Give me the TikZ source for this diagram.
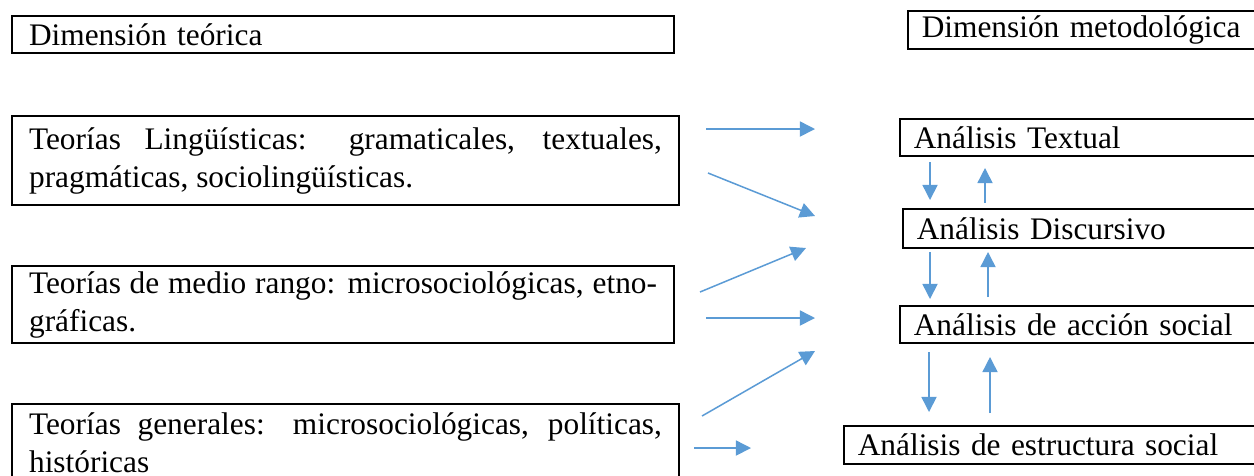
\documentclass[tikz,border=0pt]{standalone}
\usepackage{fontspec}
\setmainfont{Liberation Serif}
\usetikzlibrary{arrows.meta}
\definecolor{azul}{RGB}{91,155,213}
\tikzset{
  caja/.style={draw, line width=0.75pt, anchor=north west, inner ysep=0pt, font=\fontsize{11.4}{13.8}\selectfont},
  cajaizq/.style={caja, inner xsep=6.2pt, align=justify},
  cajader/.style={caja, inner xsep=5pt, align=left, text width=160pt},
  flecha/.style={azul, line width=0.55pt, -{Triangle[length=5.5pt,width=5.5pt]}}
}
\begin{document}
\begin{tikzpicture}[x=0.3636pt,y=-0.3636pt]
\useasboundingbox (0,0) rectangle (1254,475);
% columna teorica
\node[cajaizq, align=left, text width=228.3pt, minimum height=13.5pt] (teo) at (11,15) {Dimensión teórica};
\node[cajaizq, text width=230.1pt, minimum height=32.4pt] (ling) at (11,115) {Teorías Lingüísticas: gramaticales, textuales,\linebreak pragmáticas, sociolingüísticas.};
\node[cajaizq, text width=228.3pt, minimum height=28pt] (medio) at (11,265) {Teorías de medio rango: microsociológicas, etno-\linebreak gráficas.};
\node[cajaizq, text width=230.1pt, minimum height=28pt] (gen) at (11,403) {Teorías generales: microsociológicas, políticas,\linebreak históricas};
% columna metodologica
\node[cajader, minimum height=13.8pt] (met) at (907,10) {Dimensión metodológica};
\node[cajader, minimum height=13.5pt] (txt) at (899,118) {Análisis Textual};
\node[cajader, minimum height=14.2pt] (dis) at (902,208) {Análisis Discursivo};
\node[cajader, minimum height=13.5pt] (acc) at (899,305) {Análisis de acción social};
\node[cajader, minimum height=13.8pt] (est) at (843,425) {Análisis de estructura social};

% extremos de las flechas
\coordinate (a1) at (706,129); \coordinate (b1) at (815,129);
\coordinate (a2) at (708,173); \coordinate (b2) at (815,216);
\coordinate (a3) at (700,292); \coordinate (b3) at (806,248);
\coordinate (a4) at (706,318); \coordinate (b4) at (815,318);
\coordinate (a5) at (702,416); \coordinate (b5) at (815,351);
\coordinate (a6) at (694,448); \coordinate (b6) at (751,448);
\draw[flecha] (a1) -- (b1);
\draw[flecha] (a2) -- (b2);
\draw[flecha] (a3) -- (b3);
\draw[flecha] (a4) -- (b4);
\draw[flecha] (a5) -- (b5);
\draw[flecha] (a6) -- (b6);

% flechas verticales
\coordinate (c1) at (930,162); \coordinate (d1) at (930,200);
\coordinate (c2) at (985,203); \coordinate (d2) at (985,168);
\coordinate (c3) at (930,252); \coordinate (d3) at (930,299);
\coordinate (c4) at (988,297); \coordinate (d4) at (988,252);
\coordinate (c5) at (929,352); \coordinate (d5) at (929,412);
\coordinate (c6) at (990,413); \coordinate (d6) at (990,357);
\draw[flecha] (c1) -- (d1);
\draw[flecha] (c2) -- (d2);
\draw[flecha] (c3) -- (d3);
\draw[flecha] (c4) -- (d4);
\draw[flecha] (c5) -- (d5);
\draw[flecha] (c6) -- (d6);
\end{tikzpicture}
\end{document}
